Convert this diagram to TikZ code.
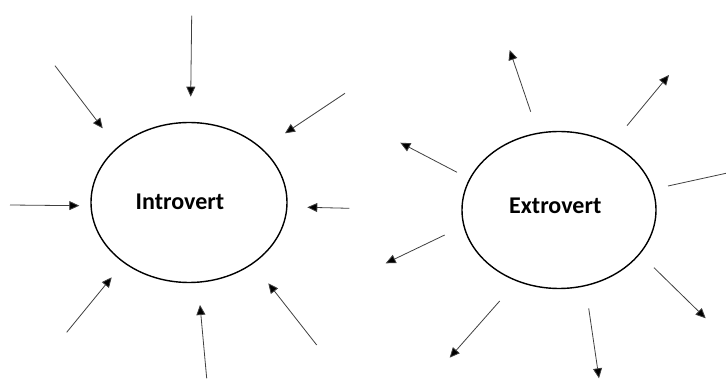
\documentclass[tikz,border=0pt]{standalone}
\usepackage{fontspec}
\setmainfont{Carlito}
\usetikzlibrary{arrows.meta, shapes.geometric}

\tikzset{
  mind/.style={ellipse, draw=black, line width=1.4pt, inner sep=0pt},
  word/.style={font=\fontsize{24}{28}\selectfont\bfseries, inner sep=0pt},
  ray/.style={draw=black!75, line width=0.8pt, -{Triangle[length=10pt, width=9pt, fill=black]}},
  stub/.style={draw=black!75, line width=0.8pt}
}

\begin{document}
\begin{tikzpicture}[x=1pt, y=-1pt]
  \useasboundingbox (0,0) rectangle (726,379);

  % ===== left: introvert, arrows pointing in =====
  \node[mind, minimum width=196pt, minimum height=160pt] (intro) at (189,202.5) {};
  \node[word] (introlabel) at (180,202) {Introvert};

  \foreach \n/\sx/\sy/\ex/\ey in {1/191.7/15.7/190.7/96.7, 2/55/65.7/102.7/128.3,
      3/345/93.3/285/133.3, 4/10/205/79.3/205.7, 5/349.3/208.3/307.3/207.3,
      6/66.7/332.3/111.7/277.3, 7/206.7/378.3/200/305, 8/316.7/345/268.3/283.3} {
    \coordinate (in\n-s) at (\sx,\sy);
    \coordinate (in\n-e) at (\ex,\ey);
    \draw[ray] (in\n-s) -- (in\n-e);
  }

  % ===== right: extrovert, arrows pointing out =====
  \node[mind, minimum width=194pt, minimum height=157pt] (extro) at (559,210) {};
  \node[word] (extrolabel) at (555.3,205.7) {Extrovert};

  \foreach \n/\sx/\sy/\ex/\ey in {1/530.7/111.7/509.7/50, 2/627/125.7/669/75,
      4/457/172.3/400.3/142.7, 5/444.7/235/385.7/263.3, 6/499.7/301/449.7/357.7,
      7/588.7/308.3/599/378.3, 8/654/267.7/705.7/318.3} {
    \coordinate (out\n-s) at (\sx,\sy);
    \coordinate (out\n-e) at (\ex,\ey);
    \draw[ray] (out\n-s) -- (out\n-e);
  }
  % cut off at the right edge
  \coordinate (out3-s) at (668,186);
  \coordinate (out3-e) at (726,173.3);
  \draw[stub] (out3-s) -- (out3-e);
\end{tikzpicture}
\end{document}
